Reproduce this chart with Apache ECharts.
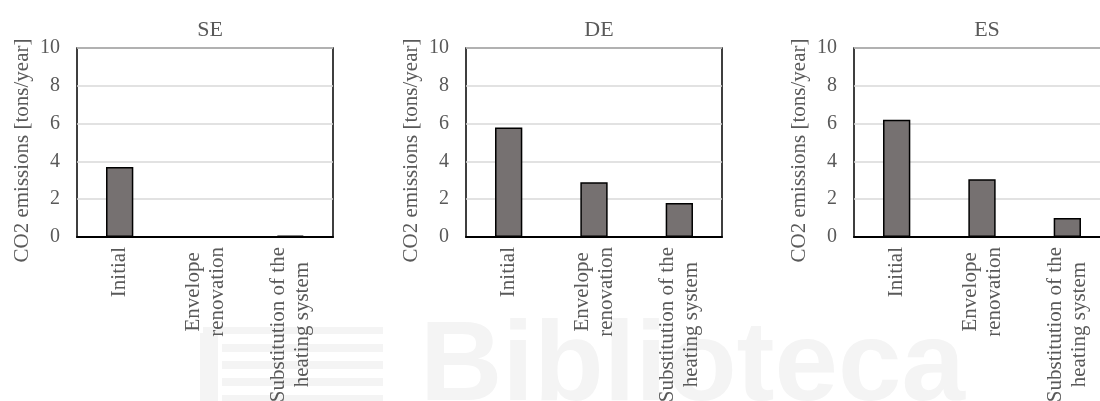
<!DOCTYPE html>
<html>
<head>
<meta charset="utf-8">
<script src="https://cdn.jsdelivr.net/npm/echarts@6/dist/echarts.min.js"></script>
<style>
  html, body { margin: 0; padding: 0; background: #ffffff; }
  #chart { width: 1100px; height: 401px; }
</style>
</head>
<body>
<div id="chart"></div>
<script>
// Annual CO2 emissions per scenario, one panel per country
const categories = ['Initial', 'Envelope\nrenovation', 'Substitution of the\nheating system'];
const countries = ['SE', 'DE', 'ES'];
const seValues = [3.7, 0, 0.07];
const deValues = [5.8, 2.9, 1.8];
const esValues = [6.2, 3.05, 1.0];
const yMin = 0;
const yMax = 10;
const yStep = 2;
const yAxisTitle = 'CO2 emissions [tons/year]';
const watermarkText = 'Biblioteca';

const panelValues = [seValues, deValues, esValues];
const panelLefts = [77, 466, 854];
const panelWidth = 256;
const panelTop = 48;
const panelHeight = 189;

const textColor = '#595959';
const serif = '"Liberation Serif", "DejaVu Serif", serif';
const labelSize = 21;
const tickSize = 20;

const chart = echarts.init(document.getElementById('chart'), null, { renderer: 'canvas' });

const grids = [], xAxes = [], yAxes = [], series = [], titles = [];

countries.forEach((name, i) => {
  grids.push({
    left: panelLefts[i], top: panelTop, width: panelWidth, height: panelHeight,
    outerBoundsMode: 'none', containLabel: false,
    show: true, borderColor: '#000000', borderWidth: 1.5, backgroundColor: 'transparent'
  });
  titles.push({
    text: name,
    left: panelLefts[i] + panelWidth / 2,
    top: 14,
    textAlign: 'center',
    textStyle: { fontFamily: serif, fontSize: 22, fontWeight: 'normal', color: textColor }
  });
  xAxes.push({
    type: 'category', gridIndex: i, data: categories,
    axisLine: { show: true, lineStyle: { color: '#000000', width: 2 } },
    axisTick: { show: false },
    splitLine: { show: false },
    axisLabel: {
      rotate: 90, margin: 10, interval: 0,
      color: textColor, fontFamily: serif, fontSize: labelSize, lineHeight: 24,
      formatter: (v) => v.split('\n').map(l => '{c|' + l + '}').join('\n'),
      rich: { c: { align: 'center', color: textColor, fontFamily: serif, fontSize: labelSize, lineHeight: 24 } }
    }
  });
  yAxes.push({
    type: 'value', gridIndex: i, min: yMin, max: yMax, interval: yStep,
    axisLine: { show: false }, axisTick: { show: false },
    splitLine: { show: true, lineStyle: { color: '#d9d9d9', width: 1.5 } },
    axisLabel: { margin: 17, color: textColor, fontFamily: serif, fontSize: tickSize },
    name: yAxisTitle, nameLocation: 'middle', nameGap: 44, nameRotate: 90,
    nameTextStyle: { color: textColor, fontFamily: serif, fontSize: labelSize, padding: [0, 16, 0, 0] }
  });
  series.push({
    type: 'bar', xAxisIndex: i, yAxisIndex: i, data: panelValues[i],
    barWidth: '32%',
    itemStyle: { color: '#767171', borderColor: '#000000', borderWidth: 1.5 }
  });
});

// faint library mark in the background
const wm = '#f4f4f4';
const graphics = [
  { type: 'text', left: 420, top: 312, z: -10, silent: true,
    style: { text: watermarkText, fill: wm, font: 'bold 114px "Liberation Sans", Arial, sans-serif' } },
  { type: 'rect', z: -10, silent: true, shape: { x: 200, y: 333, width: 18, height: 70 }, style: { fill: wm } },
  { type: 'rect', z: -10, silent: true, shape: { x: 203, y: 327, width: 180, height: 7 }, style: { fill: wm } },
  { type: 'rect', z: -10, silent: true, shape: { x: 222, y: 344, width: 161, height: 8 }, style: { fill: wm } },
  { type: 'rect', z: -10, silent: true, shape: { x: 222, y: 361, width: 161, height: 8 }, style: { fill: wm } },
  { type: 'rect', z: -10, silent: true, shape: { x: 222, y: 378, width: 161, height: 8 }, style: { fill: wm } },
  { type: 'rect', z: -10, silent: true, shape: { x: 222, y: 395, width: 161, height: 8 }, style: { fill: wm } }
];

chart.setOption({
  animation: false,
  backgroundColor: '#ffffff',
  title: titles,
  grid: grids,
  xAxis: xAxes,
  yAxis: yAxes,
  series: series,
  graphic: graphics
});
</script>
</body>
</html>
